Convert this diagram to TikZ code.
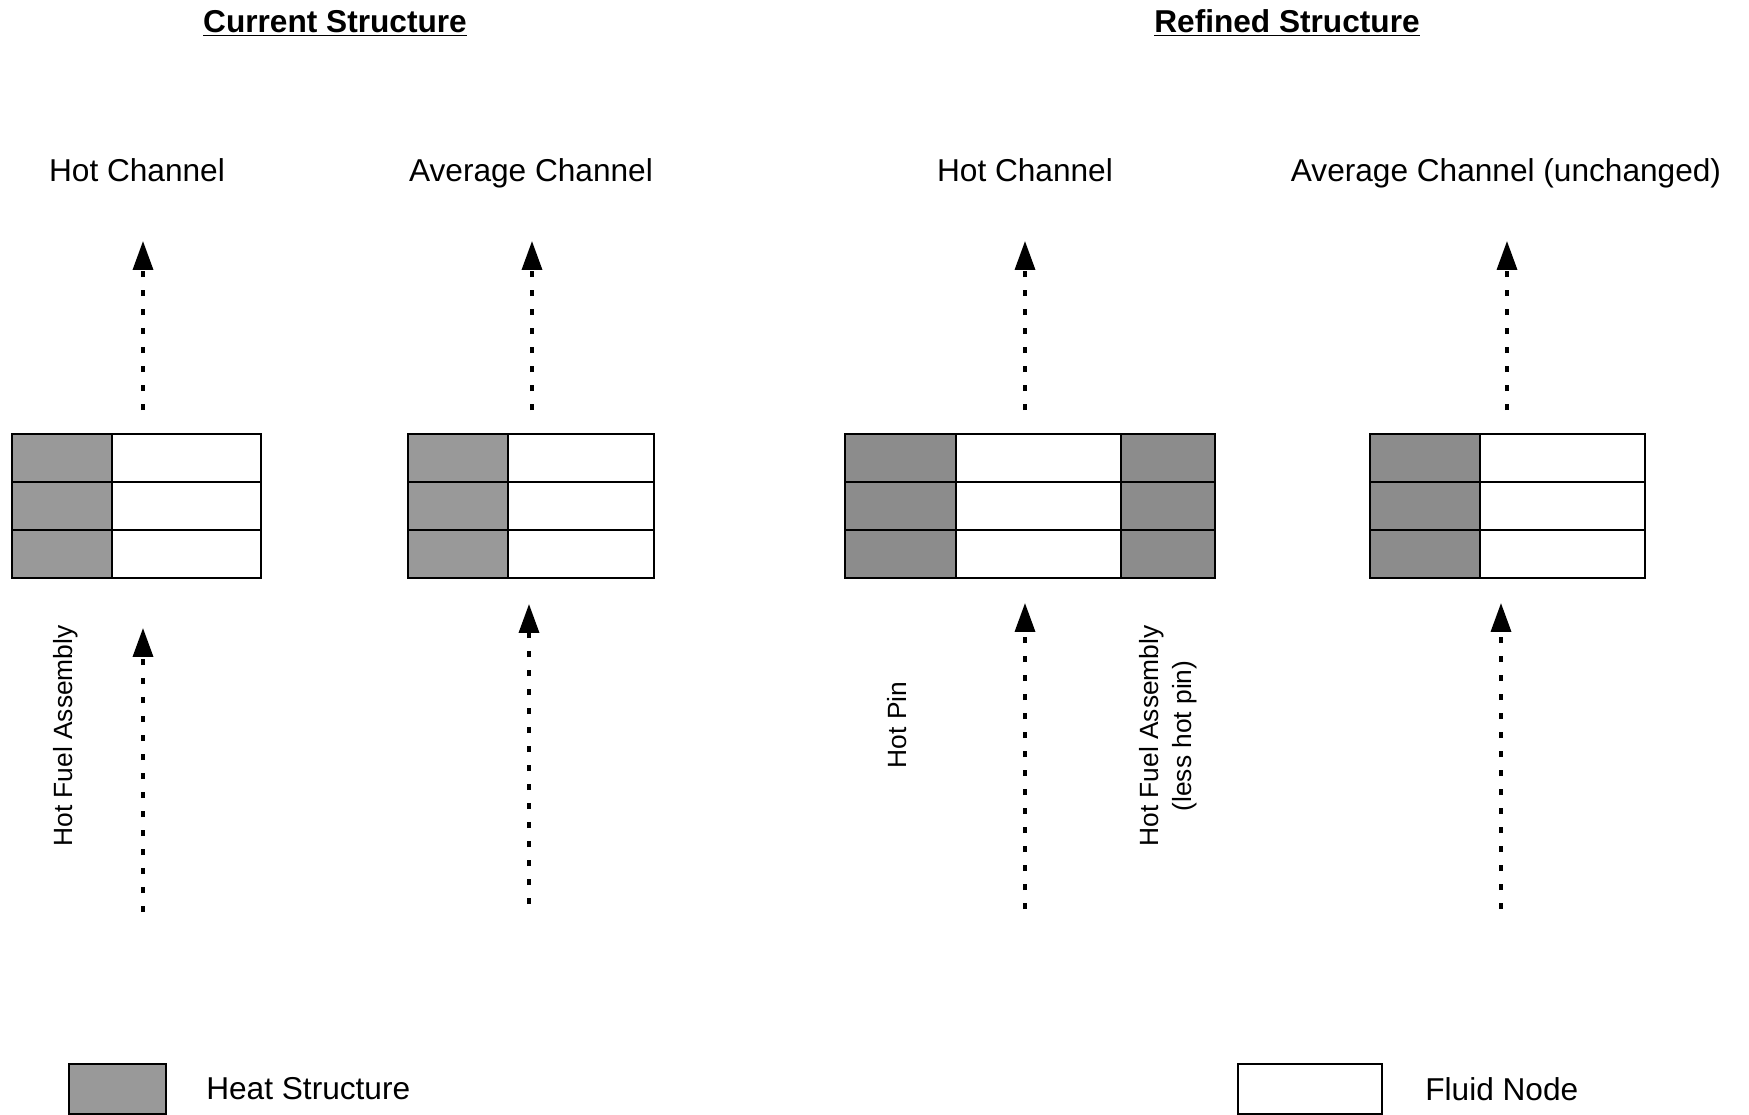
\documentclass[tikz,border=0pt]{standalone}
\usepackage{fontspec}
\setmainfont{Liberation Sans}
\usetikzlibrary{positioning,arrows.meta}

\begin{document}
\begin{tikzpicture}[
  x=0.02cm, y=-0.02cm,
  every node/.style={font=\fontsize{18}{22}\selectfont},
  cell/.style={draw, line width=1.4pt, rectangle, inner sep=0pt, outer sep=0pt, minimum height=0.96cm},
  heat/.style={cell, fill=black!40},
  fluid/.style={cell, fill=white},
  flow/.style={line width=2pt, dash pattern=on 0.12cm off 0.26cm, -{Triangle[length=0.58cm,width=0.4cm]}},
  side/.style={rotate=90, align=center, font=\fontsize{15}{19}\selectfont},
  title/.style={font=\fontsize{18}{21}\selectfont\bfseries}
]
\useasboundingbox (0,0) rectangle (1749,1115);

% headings
\node[title, anchor=base] (cur) at (335,33) {\underline{Current Structure}};
\node[title, anchor=base] (ref) at (1287,33) {\underline{Refined Structure}};

\node[anchor=base] (ch-t) at (137,181) {Hot Channel};
\node[anchor=base] (ca-t) at (531,181) {Average Channel};
\node[anchor=base] (rh-t) at (1025,181) {Hot Channel};
\node[anchor=base] (ra-t) at (1506,181) {Average Channel (unchanged)};

% channel grids
\foreach \r/\yy in {1/434,2/482,3/530} {
  \node[heat, minimum width=2.0cm, anchor=north west] (ch-hs\r) at (12,\yy) {};
  \node[fluid, minimum width=2.98cm, right=0pt of ch-hs\r] (ch-fn\r) {};
  \node[heat, minimum width=2.0cm, anchor=north west] (ca-hs\r) at (408,\yy) {};
  \node[fluid, minimum width=2.92cm, right=0pt of ca-hs\r] (ca-fn\r) {};
  \node[heat, fill=black!45, minimum width=2.22cm, anchor=north west] (rh-pin\r) at (845,\yy) {};
  \node[fluid, minimum width=3.3cm, right=0pt of rh-pin\r] (rh-fn\r) {};
  \node[heat, fill=black!45, minimum width=1.88cm, right=0pt of rh-fn\r] (rh-fa\r) {};
  \node[heat, fill=black!45, minimum width=2.2cm, anchor=north west] (ra-hs\r) at (1370,\yy) {};
  \node[fluid, minimum width=3.3cm, right=0pt of ra-hs\r] (ra-fn\r) {};
}

% flow in and out
\coordinate (ch-out) at (143,241);
\coordinate (ca-out) at (532,241);
\coordinate (rh-out) at (1025,241);
\coordinate (ra-out) at (1507,241);
\coordinate (ch-in) at (143,912);
\coordinate (ca-in) at (529,904);
\coordinate (rh-in) at (1025,909);
\coordinate (ra-in) at (1501,909);

\draw[flow, shorten <=0.48cm] (ch-out |- ch-fn1.north) -- (ch-out);
\draw[flow, shorten <=0.48cm] (ca-out |- ca-fn1.north) -- (ca-out);
\draw[flow, shorten <=0.48cm] (rh-out |- rh-fn1.north) -- (rh-out);
\draw[flow, shorten <=0.48cm] (ra-out |- ra-fn1.north) -- (ra-out);

\draw[flow, shorten >=1.0cm] (ch-in) -- (ch-in |- ch-fn3.south);
\draw[flow, shorten >=0.52cm] (ca-in) -- (ca-in |- ca-fn3.south);
\draw[flow, shorten >=0.5cm] (rh-in) -- (rh-in |- rh-fn3.south);
\draw[flow, shorten >=0.5cm] (ra-in) -- (ra-in |- ra-fn3.south);

% side labels
\node[side] (hfa) at (66,736) {Hot Fuel Assembly};
\node[side] (hpin) at (897,725) {Hot Pin};
\node[side] (hfa-less) at (1168,736) {Hot Fuel Assembly\\(less hot pin)};

% legend
\node[heat, minimum width=1.94cm, minimum height=1.0cm, anchor=north west] (leg-hs) at (69,1064) {};
\node[right=0.8cm of leg-hs, inner sep=0pt] (leg-hs-t) {Heat Structure};
\node[fluid, minimum width=2.88cm, minimum height=1.0cm, anchor=north west] (leg-fn) at (1238,1064) {};
\node[right=0.86cm of leg-fn, inner sep=0pt] (leg-fn-t) {Fluid Node};
\end{tikzpicture}
\end{document}
